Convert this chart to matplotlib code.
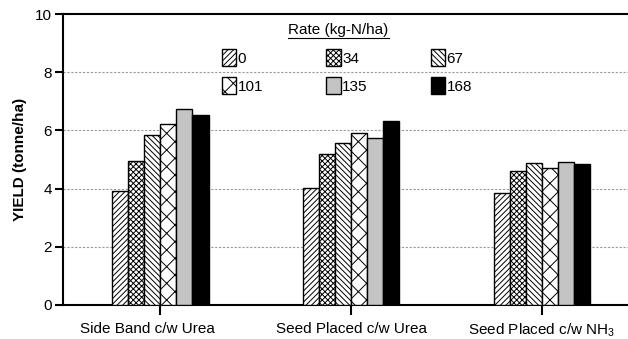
import matplotlib
matplotlib.use("Agg")
import matplotlib.pyplot as plt
import matplotlib.transforms as mtransforms
from matplotlib.lines import Line2D
import numpy as np

plt.rcParams['font.family'] = ['Liberation Sans', 'DejaVu Sans']
plt.rcParams['mathtext.fontset'] = 'custom'
plt.rcParams['mathtext.rm'] = 'Liberation Sans'
plt.rcParams['mathtext.default'] = 'regular'
plt.rcParams['hatch.linewidth'] = 0.7

categories = ["Side Band c/w Urea", "Seed Placed c/w Urea", "Seed Placed c/w NH$_3$"]
rates = ["0", "34", "67", "101", "135", "168"]
y_0 = [3.93, 4.02, 3.84]
y_34 = [4.95, 5.20, 4.61]
y_67 = [5.84, 5.56, 4.89]
y_101 = [6.22, 5.92, 4.72]
y_135 = [6.74, 5.73, 4.93]
y_168 = [6.52, 6.34, 4.85]
series = [y_0, y_34, y_67, y_101, y_135, y_168]

hatches = ['//////', 'xxxxxx', '\\\\\\\\\\\\', 'xx', None, None]
faces = ['white', 'white', 'white', 'white', '#c4c4c4', 'black']

fig = plt.figure(figsize=(6.28, 3.39), dpi=100)
ax = fig.add_axes([63/628, 34/339, 565/628, 291/339])

x = np.arange(len(categories))
w = 0.0842
containers = []
for i, (vals, h, fc, lab) in enumerate(zip(series, hatches, faces, rates)):
    c = ax.bar(x + (i - 2.5) * w, vals, width=w, facecolor=fc, edgecolor='black',
               hatch=h, linewidth=1.0, label=lab, zorder=3)
    containers.append(c)

ax.set_xlim(-0.51, 2.45)
ax.set_ylim(0, 10)
ax.set_yticks([0, 2, 4, 6, 8, 10])
ax.set_xticks(x)
ax.set_xticklabels(categories, fontsize=11)
ax.tick_params(axis='y', labelsize=11, length=6, width=1.5, direction='out', pad=2)
ax.tick_params(axis='x', length=7, width=1.5, direction='out', pad=5)
for yv in [2, 4, 6, 8]:
    ax.axhline(yv, color='#999999', linestyle=(0, (2, 1.5)), linewidth=0.8, zorder=1)

ax.spines['right'].set_visible(False)
for s in ['left', 'bottom', 'top']:
    ax.spines[s].set_linewidth(1.5)

ax.set_ylabel('YIELD (tonne/ha)', fontsize=11, fontweight='bold', labelpad=6)

# shift first tick label left slightly as in reference
lab0 = ax.get_xticklabels()[0]
lab0.set_transform(lab0.get_transform() + mtransforms.ScaledTranslation(-13/100, 0, fig.dpi_scale_trans))

# row-major legend order (matplotlib fills columns first)
order = [0, 3, 1, 4, 2, 5]
leg = ax.legend([containers[k] for k in order], [rates[k] for k in order],
                ncol=3, loc='upper left', bbox_to_anchor=(222/628, 1 - 49/339),
                bbox_transform=fig.transFigure, frameon=False, fontsize=11,
                handlelength=0.92, handleheight=1.38, handletextpad=0.1,
                columnspacing=4.15, labelspacing=0.68, borderpad=0, borderaxespad=0)

t = fig.text(338.5/628, 1 - 30/339, 'Rate (kg-N/ha)', ha='center', va='center', fontsize=11)
fig.canvas.draw()
bb = t.get_window_extent()
fig.add_artist(Line2D([bb.x0/628, bb.x1/628], [1 - 38/339, 1 - 38/339],
                      transform=fig.transFigure, color='black', linewidth=0.8))

fig.savefig('out.png', dpi=100)
